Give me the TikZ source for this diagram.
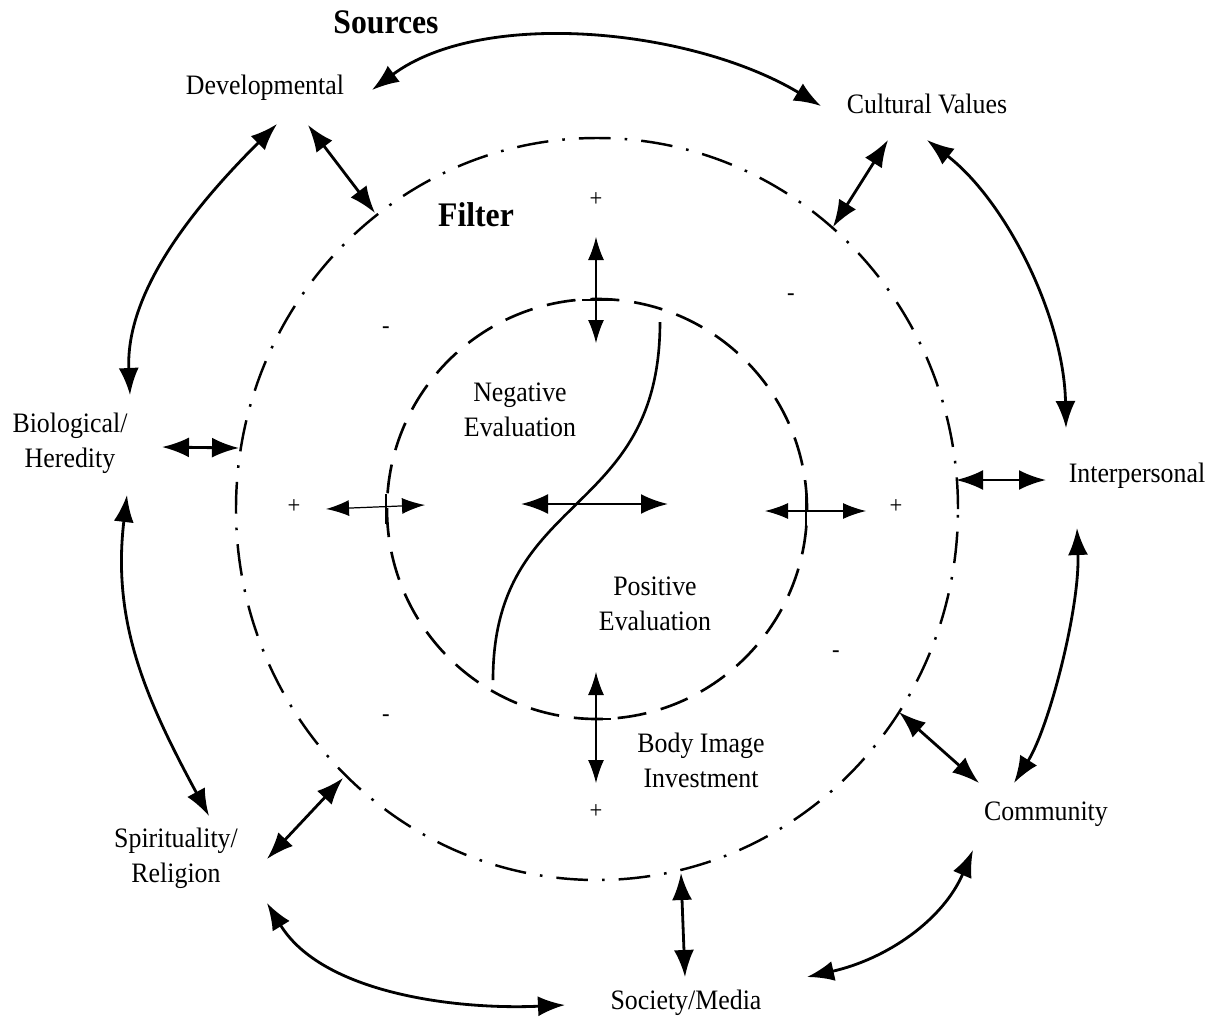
\documentclass[tikz,border=0pt]{standalone}
\usepackage{fontspec}
\setmainfont{Liberation Serif}[FakeStretch=0.92]
\usetikzlibrary{arrows.meta}

\begin{document}
\begin{tikzpicture}[
        x=0.2mm, y=-0.2mm,
        >={Latex[length=5.4mm, width=4mm]},
        source/.style={align=center, font=\fontsize{16}{19.8}\selectfont},
        heading/.style={font=\fontsize{19.6}{23}\selectfont\bfseries},
        sign/.style={font=\fontsize{14}{16}\selectfont},
        link/.style={<->, line width=1.6pt},
        probe/.style={{Latex[length=4.6mm, width=3.2mm]}-{Latex[length=4.6mm, width=3.2mm]}, line width=0.7pt},
        filterring/.style={line width=1.4pt, dash pattern=on 18pt off 8pt on 1.5pt off 8pt},
        evalring/.style={line width=1.5pt, dash pattern=on 16.5pt off 8.5pt},
    ]
    \useasboundingbox (0,0) rectangle (1219,1021);

    \coordinate (centre) at (597,509);
    \draw[filterring] (centre) ellipse [x radius=72.2mm, y radius=74.2mm];
    \draw[evalring] (centre) circle [radius=42mm];

    \node[heading] (sources) at (386,22) {Sources};
    \node[heading] (filter) at (476,215) {Filter};

    \node[source] (dev) at (265,88) {Developmental};
    \node[source] (cult) at (927,104) {Cultural Values};
    \node[source] (bio) at (70,443) {Biological/\\Heredity};
    \node[source] (inter) at (1137,476) {Interpersonal};
    \node[source] (spir) at (176,858) {Spirituality/\\Religion};
    \node[source] (comm) at (1046,814) {Community};
    \node[source] (soc) at (686,1003) {Society/Media};

    \node[source] (neg) at (520,410) {Negative\\Evaluation};
    \node[source] (pos) at (655,604) {Positive\\Evaluation};
    \node[source] (invest) at (701,760) {Body Image\\Investment};

    \foreach \x/\y [count=\i] in {596/200, 294/507, 896/507, 596/812}
        \node[sign] (plus\i) at (\x,\y) {+};
    \foreach \x/\y [count=\i] in {386/330, 791/297, 836/654, 386/718}
        \node[sign] (minus\i) at (\x,\y) {-};

    \coordinate (f-dev) at (375,213);
    \coordinate (f-cult) at (833,227);
    \coordinate (f-bio) at (239,448);
    \coordinate (f-inter) at (956,480);
    \coordinate (f-spir) at (343,778);
    \coordinate (f-comm) at (899,712);
    \coordinate (f-soc) at (681,873);

    \draw[link] ([shift={(107,2)}]dev.center) .. controls +(110,-82) and +(-130,-78) .. ([shift={(-106,2)}]cult.center);
    \draw[link] ([shift={(12,36)}]dev.center) .. controls +(-70,70) and +(-5,-110) .. ([shift={(60,-48)}]bio.center);
    \draw[link] ([shift={(57,52)}]bio.center) .. controls +(-15,125) and +(-65,-120) .. ([shift={(33,-42)}]spir.center);
    \draw[link] ([shift={(91,45)}]spir.center) .. controls +(55,90) and +(-110,5) .. ([shift={(-121,2)}]soc.center);
    \draw[link] ([shift={(121,-26)}]soc.center) .. controls +(80,-18) and +(-30,70) .. ([shift={(-73,36)}]comm.center);
    \draw[link] ([shift={(-32,-31)}]comm.center) .. controls +(35,-55) and +(3,80) .. ([shift={(-60,52)}]inter.center);
    \draw[link] ([shift={(-71,-48)}]inter.center) .. controls +(-2,-110) and +(80,62) .. ([shift={(0,36)}]cult.center);

    \draw[link] ([shift={(43,37)}]dev.center) -- (f-dev);
    \draw[link] ([shift={(-39,36)}]cult.center) -- (f-cult);
    \draw[link] ([shift={(92,4)}]bio.center) -- (f-bio);
    \draw[link] ([shift={(-91,4)}]inter.center) -- (f-inter);
    \draw[link] ([shift={(91,1)}]spir.center) -- (f-spir);
    \draw[link] ([shift={(-67,-31)}]comm.center) -- (f-comm);
    \draw[link] ([shift={(-1,-26)}]soc.center) -- (f-soc);

    \coordinate (e-top) at (596,237);
    \coordinate (e-top-in) at (596,343);
    \coordinate (e-bot) at (596,783);
    \coordinate (e-bot-in) at (596,672);
    \coordinate (e-left) at (326,509);
    \coordinate (e-left-in) at (425,505);
    \coordinate (e-right) at (866,511);
    \coordinate (e-right-in) at (765,511);
    \coordinate (neg-end) at (521,504);
    \coordinate (pos-end) at (668,504);

    \draw[line width=1.5pt] (660,322) .. controls (660,520) and (493,490) .. (493,680);
    \draw[link] (neg-end) -- (pos-end);

    \draw[probe] (e-top) -- (e-top-in);
    \draw[probe] (e-bot) -- (e-bot-in);
    \draw[probe] (e-left) -- (e-left-in);
    \draw[probe] (e-right) -- (e-right-in);

    \draw[line width=1.5pt] (582,300) -- (611,300);
    \draw[line width=1.5pt] (582,719) -- (611,719);
    \draw[line width=1.5pt] (386,494) -- (386,524);
    \draw[line width=1.5pt] (806,496) -- (806,526);

    \end{tikzpicture}
\end{document}
